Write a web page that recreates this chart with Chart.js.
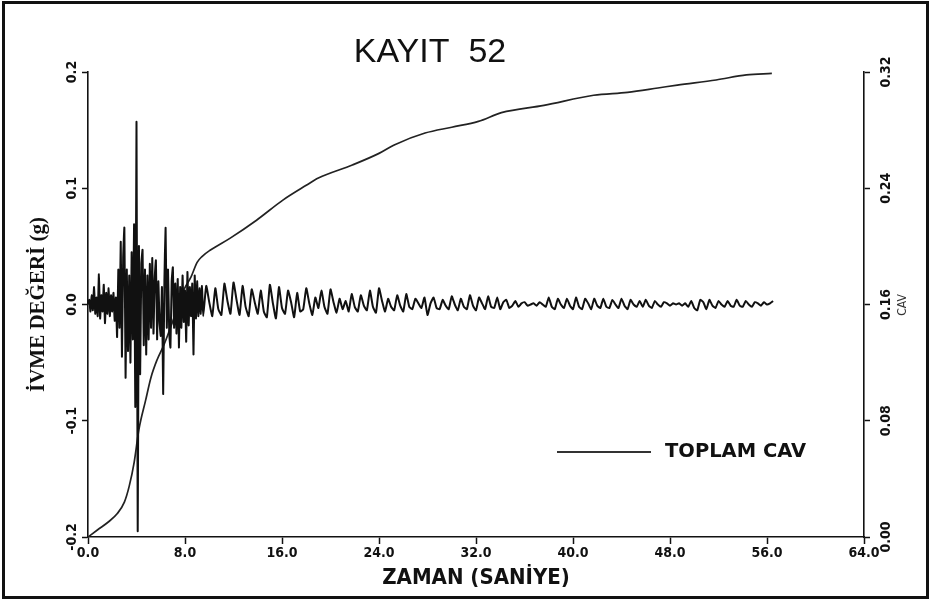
<!DOCTYPE html>
<html>
<head>
<meta charset="utf-8">
<script src="https://cdn.jsdelivr.net/npm/chart.js@4.4.1/dist/chart.umd.min.js"></script>
<style>
html,body{margin:0;padding:0;background:#fff;overflow:hidden}
canvas{display:block}
</style>
</head>
<body>
<canvas id="c" width="931" height="600"></canvas>
<script>
// ---- texts ----
const chartTitle = 'KAYIT  52';
const xAxisTitle = 'ZAMAN (SANİYE)';
const yAxisTitle = 'İVME DEĞERİ (g)';
const rightAxisTitle = 'CAV';
const legendLabel = 'TOPLAM CAV';

// ---- tick values ----
const xTicks = [0, 8, 16, 24, 32, 40, 48, 56, 64];
const accelTicks = [-0.2, -0.1, 0.0, 0.1, 0.2];
const cavTicks = [0.00, 0.08, 0.16, 0.24, 0.32];

// ---- acceleration record (g), strong-motion part sampled every 0.1 s from 0 s ----
const strongStart = 0;
const strongStep = 0.1;
const strongAccel = [
  0.000, 0.004, -0.006, 0.008, -0.005, 0.015, -0.008, 0.006, -0.010, 0.026,
  -0.012, 0.008, -0.006, 0.017, -0.016, 0.010, -0.008, 0.014, -0.010, 0.008,
  -0.006, 0.010, -0.014, 0.006, -0.028, 0.030, -0.020, 0.054, -0.045, 0.040,
  0.066, -0.063, 0.030, -0.040, 0.025, -0.050, 0.045, -0.030, 0.069, -0.088,
  0.157, -0.195, 0.050, -0.060, 0.035, 0.047, -0.035, 0.030, -0.043, 0.025,
  -0.030, 0.035, -0.020, 0.040, -0.025, 0.022, 0.038, -0.030, 0.020, -0.015,
  -0.027, 0.015, -0.077, 0.020, 0.066, -0.020, 0.030, -0.025, -0.037, 0.020,
  0.032, -0.020, 0.018, -0.025, 0.022, -0.037, 0.015, -0.020, 0.025, -0.015,
  0.012, -0.032, 0.028, -0.018, 0.015, -0.010, 0.018, -0.043, 0.025, -0.012,
  0.020, -0.010, 0.014, -0.008, 0.016, -0.010
];

// ---- acceleration record (g), coda sampled every 0.25 s from 9.75 s ----
const tailStart = 9.75;
const tailStep = 0.25;
const tailAccel = [
  0.016, 0.002, -0.010, 0.014, -0.004, -0.009, 0.018, 0.003,
  -0.008, 0.019, 0.004, -0.009, 0.016, -0.002, -0.010, 0.013,
  0.002, -0.008, 0.012, -0.006, -0.011, 0.017, 0.001, -0.012,
  0.015, -0.003, -0.008, 0.012, 0.002, -0.011, 0.010, -0.006,
  -0.004, 0.014, 0.001, -0.009, 0.006, -0.003, 0.012, -0.002,
  -0.008, 0.013, 0.002, -0.007, 0.005, -0.004, 0.003, -0.006,
  0.009, -0.002, -0.006, 0.008, -0.001, -0.005, 0.012, -0.002,
  -0.007, 0.014, 0.003, -0.006, 0.005, -0.002, -0.005, 0.008,
  -0.001, -0.006, 0.009, -0.002, -0.004, 0.005, 0.001, -0.003,
  0.006, -0.009, 0.001, 0.006, -0.003, -0.004, 0.004, -0.001,
  -0.004, 0.007, 0.000, -0.005, 0.005, -0.002, -0.004, 0.008,
  -0.001, -0.005, 0.006, 0.001, -0.004, 0.007, -0.002, -0.003,
  0.006, -0.004, 0.002, 0.004, -0.003, -0.001, 0.003, -0.002,
  0.001, 0.002, -0.001, 0.000, 0.001, -0.001, 0.002, 0.000,
  -0.002, 0.006, -0.002, -0.004, 0.005, 0.000, -0.003, 0.005,
  -0.001, -0.004, 0.006, -0.002, -0.004, 0.005, 0.001, -0.004,
  0.005, -0.001, -0.003, 0.005, -0.002, -0.003, 0.004, 0.000,
  -0.003, 0.005, -0.001, -0.004, 0.004, 0.000, -0.002, 0.003,
  -0.002, 0.004, -0.001, -0.003, 0.003, 0.000, -0.002, 0.002,
  0.001, -0.001, 0.001, 0.000, 0.001, -0.001, 0.001, -0.002,
  0.003, -0.003, -0.005, 0.004, 0.002, -0.004, 0.004, -0.001,
  -0.003, 0.003, 0.000, -0.002, 0.003, -0.001, -0.002, 0.004,
  -0.001, -0.002, 0.003, 0.000, -0.002, 0.002, 0.001, -0.001,
  0.002, 0.000, 0.001, 0.003
];

// ---- cumulative absolute velocity (right axis) ----
const cavTime = [0, 0.8, 1.7, 2.4, 3.0, 3.4, 3.8, 4.2, 4.75, 5.2, 5.7, 6.3, 7.1, 7.9, 8.5, 9.0, 9.4,
  10.1, 11.7, 13.9, 16.1, 18.0, 19.0, 21.8, 24.0, 25.3, 27.8, 30.0, 32.2, 34.1, 37.6, 41.7, 44.5,
  47.0, 48.6, 51.8, 54.3, 56.4];
const cavValue = [0, 0.005, 0.0105, 0.016, 0.024, 0.035, 0.051, 0.074, 0.094, 0.110, 0.122, 0.133,
  0.151, 0.170, 0.179, 0.189, 0.193, 0.1975, 0.2055, 0.218, 0.232, 0.242, 0.247, 0.256, 0.264,
  0.270, 0.278, 0.282, 0.286, 0.292, 0.297, 0.304, 0.306, 0.309, 0.311, 0.3145, 0.318, 0.319];

// ---- build datasets ----
const accelPoints = [];
strongAccel.forEach((v, i) => accelPoints.push({x: +(strongStart + i * strongStep).toFixed(2), y: v}));
tailAccel.forEach((v, i) => accelPoints.push({x: +(tailStart + i * tailStep).toFixed(2), y: v}));
const cavPoints = cavTime.map((t, i) => ({x: t, y: cavValue[i]}));

const ink = '#111';
const tickFont = {family: "'Liberation Sans Narrow','DejaVu Sans Condensed','Liberation Sans',sans-serif", size: 14, weight: 'bold'};
const setTicks = arr => scale => { scale.ticks = arr.map(v => ({value: v})); };

const decor = {
  id: 'decor',
  beforeDraw(chart) {
    const c = chart.ctx;
    c.save();
    c.fillStyle = '#fff';
    c.fillRect(0, 0, chart.width, chart.height);
    c.restore();
  },
  afterDraw(chart) {
    const c = chart.ctx;
    c.save();
    // title
    c.fillStyle = ink;
    c.font = "34px 'Liberation Sans', Arial, sans-serif";
    c.textAlign = 'center';
    c.textBaseline = 'alphabetic';
    c.fillText(chartTitle, 430, 62);
    // right axis label
    c.save();
    c.translate(903, 305);
    c.rotate(-Math.PI / 2);
    c.font = "12px 'Liberation Sans Narrow','DejaVu Sans Condensed',sans-serif";
    c.textAlign = 'center';
    c.textBaseline = 'middle';
    c.fillStyle = '#333';
    c.fillText(rightAxisTitle, 0, 0);
    c.restore();
    // legend
    c.strokeStyle = '#333';
    c.lineWidth = 2;
    c.beginPath();
    c.moveTo(557, 452);
    c.lineTo(651, 452);
    c.stroke();
    c.font = "bold 19.5px 'DejaVu Sans', Verdana, sans-serif";
    c.textAlign = 'left';
    c.textBaseline = 'middle';
    c.fillStyle = ink;
    c.fillText(legendLabel, 665, 452);
    // outer frame
    c.strokeStyle = ink;
    c.lineWidth = 3;
    c.strokeRect(3.5, 2.5, 924, 595);
    c.restore();
  }
};

new Chart(document.getElementById('c'), {
  type: 'line',
  data: {
    datasets: [
      {label: 'İvme', data: accelPoints, yAxisID: 'yA', borderColor: ink, borderWidth: 2,
       pointRadius: 0, tension: 0.15, fill: false},
      {label: legendLabel, data: cavPoints, yAxisID: 'yC', borderColor: '#222', borderWidth: 1.7,
       pointRadius: 0, cubicInterpolationMode: 'monotone', fill: false}
    ]
  },
  options: {
    responsive: false,
    animation: false,
    events: [],
    layout: {padding: {top: 72, left: 0, right: 0, bottom: 0}},
    plugins: {legend: {display: false}, title: {display: false}, tooltip: {enabled: false}},
    scales: {
      x: {
        type: 'linear', min: 0, max: 64,
        afterBuildTicks: setTicks(xTicks),
        afterFit: s => { s.height = 63; },
        ticks: {font: tickFont, color: ink, padding: 1, minRotation: 0, maxRotation: 0,
                callback: v => Number(v).toFixed(1)},
        grid: {display: true, drawOnChartArea: false, drawTicks: true, tickLength: 7, tickColor: ink, tickWidth: 1.5},
        border: {display: true, color: ink, width: 1.6},
        title: {display: true, text: xAxisTitle, color: ink,
                font: {family: "'Liberation Sans Narrow','DejaVu Sans Condensed',sans-serif", size: 22, weight: 'bold'},
                padding: {top: 0, bottom: 9}}
      },
      yA: {
        type: 'linear', position: 'left', min: -0.2, max: 0.2,
        afterBuildTicks: setTicks(accelTicks),
        afterFit: s => { s.width = 88; },
        ticks: {font: tickFont, color: ink, padding: -4, minRotation: 90, maxRotation: 90, crossAlign: 'center',
                callback: v => Number(v).toFixed(1)},
        grid: {display: true, drawOnChartArea: false, drawTicks: true, tickLength: 6, tickColor: ink, tickWidth: 1.5},
        border: {display: true, color: ink, width: 1.6},
        title: {display: true, text: yAxisTitle, color: ink,
                font: {family: "'Liberation Serif','Times New Roman',serif", size: 21, weight: 'bold'},
                padding: {top: 26, bottom: 0}}
      },
      yC: {
        type: 'linear', position: 'right', min: 0, max: 0.32,
        afterBuildTicks: setTicks(cavTicks),
        afterFit: s => { s.width = 67; },
        ticks: {font: tickFont, color: ink, padding: 1, minRotation: 90, maxRotation: 90, crossAlign: 'center',
                callback: v => Number(v).toFixed(2)},
        grid: {display: true, drawOnChartArea: false, drawTicks: true, tickLength: 6, tickColor: ink, tickWidth: 1.5},
        border: {display: true, color: ink, width: 1.6}
      }
    }
  },
  plugins: [decor]
});
</script>
</body>
</html>
